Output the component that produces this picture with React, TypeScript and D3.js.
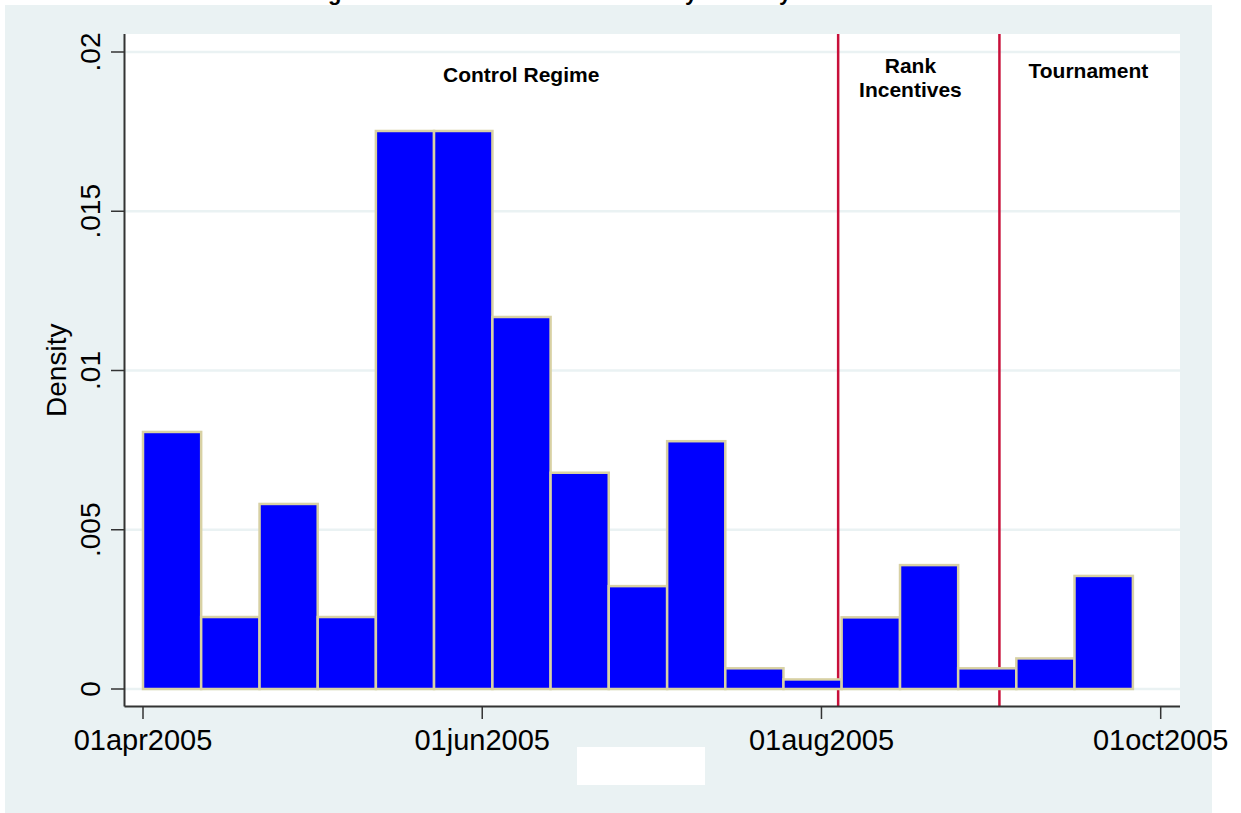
import * as d3 from "d3";
import React, { useEffect, useRef } from "react";

// histogram bins (density)
const BIN_START = "2005-04-01";
const BIN_WIDTH_DAYS = 10.47;
const densities = [
  0.00807, 0.00226, 0.00581, 0.00226, 0.01752, 0.01752, 0.01168, 0.00679, 0.00323,
  0.00778, 0.00065, 0.0003, 0.00225, 0.00389, 0.00065, 0.00096, 0.00355,
];

const xTicks = ["2005-04-01", "2005-06-01", "2005-08-01", "2005-10-01"];
const xTickLabels = ["01apr2005", "01jun2005", "01aug2005", "01oct2005"];
const yTicks = [0, 0.005, 0.01, 0.015, 0.02];
const yTickLabels = ["0", ".005", ".01", ".015", ".02"];

// regime change dates
const regimeLines = ["2005-08-04", "2005-09-02"];

// annotation labels: [date, value, lines]
const notes: [string, number, string[]][] = [
  ["2005-06-08", 0.01906, ["Control Regime"]],
  ["2005-08-17", 0.01935, ["Rank", "Incentives"]],
  ["2005-09-18", 0.01917, ["Tournament"]],
];

const title = "Histogram of Submission Dates and Day of Study";

const W = 1241;
const H = 813;
const BG = "#eaf2f3";
const FONT = "'Liberation Sans', Arial, Helvetica, sans-serif";

function drawChart(node: SVGSVGElement) {
  const svg = d3.select(node);
  svg.selectAll("*").remove();

  const plot = { left: 124.5, right: 1180, top: 34, bottom: 706.5 };
  const parse = d3.utcParse("%Y-%m-%d");

  const x = d3
    .scaleUtc()
    .domain([parse("2005-04-01")!, parse("2005-10-01")!])
    .range([143, 1160.7]);
  const y = d3.scaleLinear().domain([0, 0.02]).range([689, 52]);

  svg.append("rect").attr("width", W).attr("height", H).attr("fill", "#fff");
  svg.append("rect").attr("x", 5).attr("y", 5).attr("width", 1207).attr("height", H).attr("fill", BG);

  // title, cut off by the top edge as in the original
  svg
    .append("text")
    .attr("x", 273)
    .attr("y", -0.5)
    .attr("font-family", FONT)
    .attr("font-weight", "bold")
    .attr("font-size", 22)
    .text(title);

  svg
    .append("rect")
    .attr("x", plot.left)
    .attr("y", plot.top)
    .attr("width", plot.right - plot.left)
    .attr("height", plot.bottom - plot.top)
    .attr("fill", "#fff");

  // gridlines
  svg
    .append("g")
    .selectAll("line")
    .data(yTicks)
    .join("line")
    .attr("x1", plot.left)
    .attr("x2", plot.right)
    .attr("y1", d => y(d))
    .attr("y2", d => y(d))
    .attr("stroke", BG)
    .attr("stroke-width", 2.5);

  // regime lines (behind the bars)
  svg
    .append("g")
    .selectAll("line")
    .data(regimeLines)
    .join("line")
    .attr("x1", d => x(parse(d)!))
    .attr("x2", d => x(parse(d)!))
    .attr("y1", plot.top)
    .attr("y2", plot.bottom)
    .attr("stroke", "#c8103a")
    .attr("stroke-width", 2.5);

  const start = parse(BIN_START)!;
  const binX = (i: number) => x(d3.utcHour.offset(start, Math.round(i * BIN_WIDTH_DAYS * 24)));

  svg
    .append("g")
    .selectAll("rect")
    .data(densities)
    .join("rect")
    .attr("x", (d, i) => binX(i))
    .attr("width", (d, i) => binX(i + 1) - binX(i))
    .attr("y", d => y(d))
    .attr("height", d => y(0) - y(d))
    .attr("fill", "#0000ff")
    .attr("stroke", "#d8d1a4")
    .attr("stroke-width", 2.5);

  // annotations
  const ann = svg
    .append("g")
    .selectAll("text")
    .data(notes)
    .join("text")
    .attr("x", d => x(parse(d[0])!))
    .attr("y", d => y(d[1]))
    .attr("text-anchor", "middle")
    .attr("font-family", FONT)
    .attr("font-weight", "bold")
    .attr("font-size", 21);
  ann
    .selectAll("tspan")
    .data(d => d[2].map((t, k) => ({ t, k, cx: x(parse(d[0])!) })))
    .join("tspan")
    .attr("x", d => d.cx)
    .attr("dy", d => (d.k === 0 ? 0 : 24))
    .text(d => d.t);

  // y axis
  const yAxis = svg.append("g").attr("stroke", "#333");
  yAxis
    .append("line")
    .attr("x1", plot.left)
    .attr("x2", plot.left)
    .attr("y1", plot.top)
    .attr("y2", plot.bottom)
    .attr("stroke-width", 2);
  yAxis
    .selectAll("line.tick")
    .data(yTicks)
    .join("line")
    .attr("class", "tick")
    .attr("x1", 111)
    .attr("x2", plot.left)
    .attr("y1", d => y(d))
    .attr("y2", d => y(d))
    .attr("stroke-width", 1.5);
  svg
    .append("g")
    .selectAll("text")
    .data(yTicks)
    .join("text")
    .attr("transform", d => `translate(100,${y(d)}) rotate(-90)`)
    .attr("text-anchor", "middle")
    .attr("font-family", FONT)
    .attr("font-size", 28)
    .text((d, i) => yTickLabels[i]);
  svg
    .append("text")
    .attr("transform", `translate(66,${(plot.top + plot.bottom) / 2}) rotate(-90)`)
    .attr("text-anchor", "middle")
    .attr("font-family", FONT)
    .attr("font-size", 28)
    .text("Density");

  // x axis
  const xAxis = svg.append("g").attr("stroke", "#333");
  xAxis
    .append("line")
    .attr("x1", plot.left)
    .attr("x2", plot.right)
    .attr("y1", plot.bottom)
    .attr("y2", plot.bottom)
    .attr("stroke-width", 2);
  xAxis
    .selectAll("line.tick")
    .data(xTicks)
    .join("line")
    .attr("class", "tick")
    .attr("x1", d => x(parse(d)!))
    .attr("x2", d => x(parse(d)!))
    .attr("y1", plot.bottom)
    .attr("y2", 719)
    .attr("stroke-width", 1.5);
  svg
    .append("g")
    .selectAll("text")
    .data(xTicks)
    .join("text")
    .attr("x", d => x(parse(d)!))
    .attr("y", 750)
    .attr("text-anchor", "middle")
    .attr("font-family", FONT)
    .attr("font-size", 29)
    .text((d, i) => xTickLabels[i]);

  // blank box under the axis
  svg.append("rect").attr("x", 577).attr("y", 747).attr("width", 128).attr("height", 38).attr("fill", "#fff");
}

export default function App() {
  const ref = useRef<SVGSVGElement>(null);
  useEffect(() => {
    if (ref.current) drawChart(ref.current);
  }, []);
  return (
    <svg
      ref={ref}
      width={W}
      height={H}
      style={{ position: "absolute", left: 0, top: 0, display: "block" }}
    />
  );
}
